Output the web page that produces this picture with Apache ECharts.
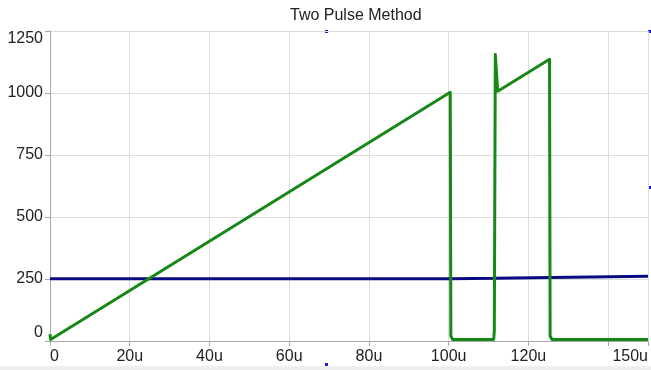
<!DOCTYPE html>
<html>
<head>
<meta charset="utf-8">
<script src="https://cdn.jsdelivr.net/npm/echarts@6/dist/echarts.min.js"></script>
<style>
html,body{margin:0;padding:0;background:#fff;}
#chart{width:651px;height:370px;}
</style>
</head>
<body>
<div id="chart"></div>
<script>
// Time values in microseconds
var greenTime = [0, 0.15, 100.4, 100.55, 101.0, 111.3, 111.45, 111.7, 112.3, 125.3, 125.45, 125.9, 150];
var greenValue = [28, 6, 1003, 20, 6, 6, 40, 1155, 1007, 1136, 20, 6, 6];
var blueTime = [0, 100.3, 100.6, 111.5, 112.0, 150];
var blueValue = [251, 251, 252, 253, 260, 261];
var xTicks = [0, 20, 40, 60, 80, 100, 120, 140, 150];
var yTicks = [0, 250, 500, 750, 1000, 1250];
var chartTitle = 'Two Pulse Method';

function pairs(t, v) { return t.map(function (x, i) { return [x, v[i]]; }); }

var chart = echarts.init(document.getElementById('chart'), null, {renderer: 'canvas'});
var font = 'Liberation Sans, Arial, sans-serif';
chart.setOption({
  animation: false,
  backgroundColor: '#ffffff',
  title: {
    text: chartTitle, left: 290, top: 8, padding: 0,
    textStyle: {fontFamily: font, fontSize: 16, fontWeight: 'normal', color: '#222'}
  },
  grid: {left: 50, right: 0, top: 31, bottom: 29, containLabel: false},
  xAxis: {
    type: 'value', min: 0, max: 150, interval: 20,
    axisLine: {show: true, lineStyle: {color: '#a8a8a8', width: 1}},
    axisTick: {show: true, length: 5, lineStyle: {color: '#a8a8a8'}},
    splitLine: {show: true, lineStyle: {color: '#dddddd', width: 1}},
    axisLabel: {
      fontFamily: font, fontSize: 16, color: '#222', margin: 8,
      showMaxLabel: true, showMinLabel: true,
      alignMinLabel: 'left', alignMaxLabel: 'right',
      formatter: function (v) {
        if (v === 0) return '0';
        if (xTicks.indexOf(v) < 0 || v === 140) return '';
        return v + 'u';
      }
    }
  },
  yAxis: {
    type: 'value', min: 0, max: 1250, interval: 250,
    axisLine: {show: true, lineStyle: {color: '#a8a8a8', width: 1}},
    axisTick: {show: true, length: 5, lineStyle: {color: '#a8a8a8'}},
    splitLine: {show: true, lineStyle: {color: '#dddddd', width: 1}},
    axisLabel: {
      fontFamily: font, fontSize: 16, color: '#222', margin: 7,
      showMaxLabel: true, showMinLabel: true,
      verticalAlignMinLabel: 'bottom', verticalAlignMaxLabel: 'top',
      formatter: function (v) { return yTicks.indexOf(v) >= 0 ? String(v) : ''; }
    }
  },
  series: [
    {
      type: 'line', name: 'blue', data: pairs(blueTime, blueValue),
      showSymbol: false, symbol: 'none', clip: true,
      lineStyle: {color: '#0a0a82', width: 3}
    },
    {
      type: 'line', name: 'green', data: pairs(greenTime, greenValue),
      showSymbol: false, symbol: 'none', clip: true,
      lineStyle: {color: '#178817', width: 3, join: 'round'}
    }
  ],
  graphic: [
    {type: 'rect', left: 0, top: 366, shape: {width: 651, height: 4}, style: {fill: '#efefef'}, silent: true},
    {type: 'rect', left: 325, top: 30, shape: {width: 3, height: 3}, style: {fill: '#1a1aee'}, silent: true},
    {type: 'rect', left: 648, top: 30, shape: {width: 3, height: 3}, style: {fill: '#1a1aee'}, silent: true},
    {type: 'rect', left: 648, top: 186, shape: {width: 3, height: 3}, style: {fill: '#1a1aee'}, silent: true},
    {type: 'rect', left: 325, top: 363, shape: {width: 3, height: 3}, style: {fill: '#1a1aee'}, silent: true}
  ]
});
</script>
</body>
</html>
